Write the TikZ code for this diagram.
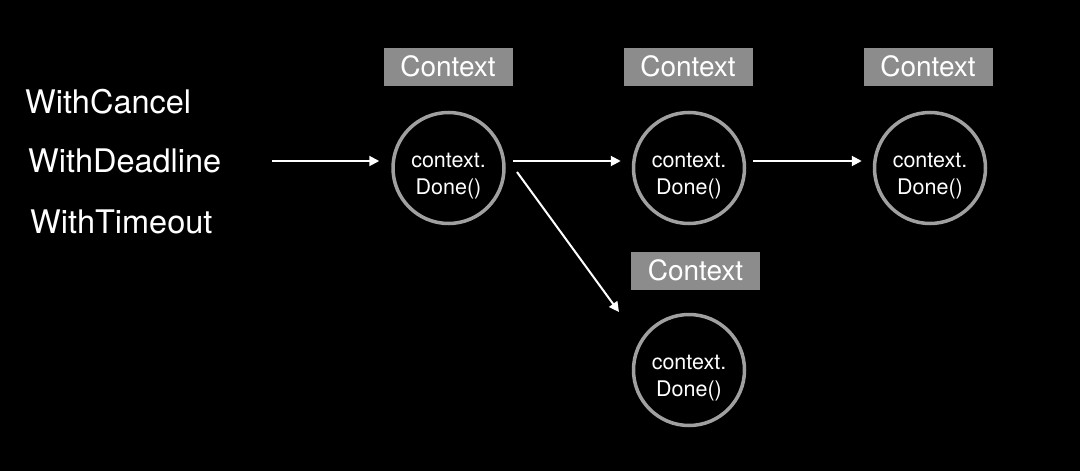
\documentclass[tikz,border=0pt]{standalone}
\usepackage{fontspec}
\setmainfont{TeX Gyre Heros}
\usetikzlibrary{arrows.meta}
\definecolor{ctxgray}{HTML}{8C8C8C}
\definecolor{ringgray}{HTML}{A0A0A0}
\newcommand\donetext{\raisebox{1pt}[0pt][0pt]{\begin{tabular}[t]{@{}c@{}}context.\\Done()\end{tabular}}}
\begin{document}
\begin{tikzpicture}[x=1pt,y=-1pt,
  ctxbox/.style={fill=ctxgray, text=white, minimum width=129pt, minimum height=38pt, inner sep=0pt, font=\fontsize{28}{32}\selectfont},
  donecircle/.style={circle, draw=ringgray, line width=3.5pt, minimum size=111pt, inner sep=0pt, text=white, font=\fontsize{21.5}{27}\selectfont},
  sidelabel/.style={text=white, anchor=base west, inner sep=0pt, font=\fontsize{32.5}{36}\selectfont},
  flow/.style={draw=white, line width=2pt, -{Triangle[length=10pt,width=10pt]}}
]
\fill[black] (0,0) rectangle (1080,471);
\useasboundingbox (0,0) rectangle (1080,471);

\node[sidelabel] (cancel) at (25,113) {WithCancel};
\node[sidelabel] (deadline) at (28,172) {WithDeadline};
\node[sidelabel] (timeout) at (30,233) {WithTimeout};

\node[ctxbox] (b1) at (448,66.5) {Context};
\node[ctxbox] (b2) at (688,66.5) {Context};
\node[ctxbox] (b3) at (928,66.5) {Context};
\node[ctxbox] (b4) at (695.5,270.5) {Context};

\node[donecircle] (c1) at (448.5,168) {\donetext};
\node[donecircle] (c2) at (689,168) {\donetext};
\node[donecircle] (c3) at (930,168) {\donetext};
\node[donecircle] (c4) at (689,370) {\donetext};

\coordinate (src) at (272,161);
\coordinate (d0) at (517,172);
\coordinate (d1) at (619,312);
\draw[flow, shorten >=12pt] (src) -- (src -| c1.west);
\draw[flow, shorten <=7pt, shorten >=11pt] (c1.east |- src) -- (c2.west |- src);
\draw[flow, shorten <=7pt, shorten >=11pt] (c2.east |- src) -- (c3.west |- src);
\draw[flow] (d0) -- (d1);
\end{tikzpicture}
\end{document}
